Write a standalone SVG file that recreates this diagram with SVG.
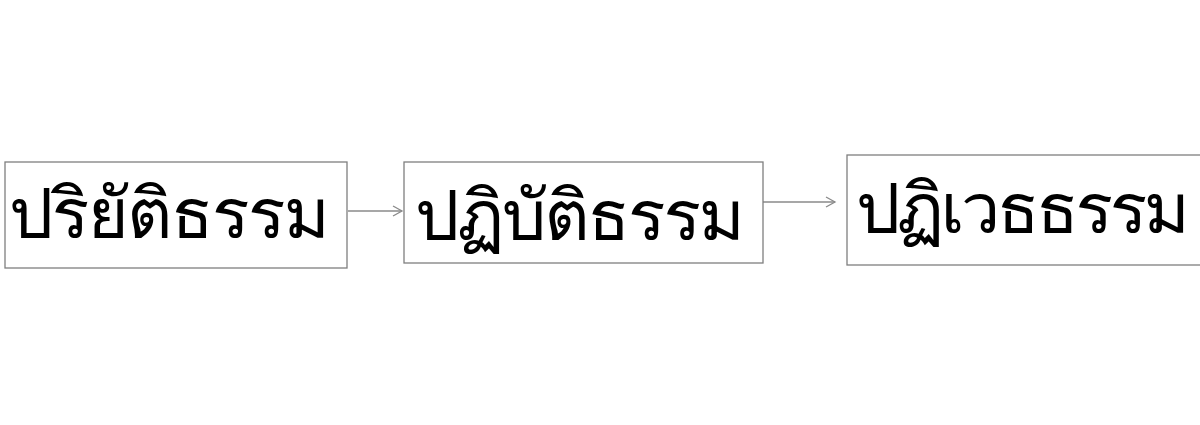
<svg xmlns="http://www.w3.org/2000/svg" width="1200" height="425" viewBox="0 0 1200 425">
<style>
.box{fill:#fff;stroke:#7f7f7f;stroke-width:1.3}
.lbl{font-family:"Loma","Garuda","Noto Sans Thai Looped","Noto Sans","DejaVu Sans",sans-serif;font-size:70px;font-weight:200;fill:#000}
.conn{stroke:#8a8a8a;stroke-width:1.3;fill:none}
</style>
<defs>
<marker id="arr" markerWidth="12" markerHeight="12" refX="10" refY="6" orient="auto" markerUnits="userSpaceOnUse">
<path d="M1,1 L10,6 L1,11" fill="none" stroke="#8a8a8a" stroke-width="1.3"/>
</marker>
</defs>
<rect width="1200" height="425" fill="#fff"/>
<g id="connectors">
<line class="conn" x1="348" y1="211" x2="402" y2="211" marker-end="url(#arr)"/>
<line class="conn" x1="763" y1="202" x2="835" y2="202" marker-end="url(#arr)"/>
</g>
<g id="node1">
<rect class="box" x="5" y="162" width="342" height="106"/>
<text class="lbl" x="9" y="238" textLength="321" lengthAdjust="spacing">ปริยัติธรรม</text>
</g>
<g id="node2">
<rect class="box" x="404" y="162" width="359" height="101"/>
<text class="lbl" x="415" y="240" textLength="330" lengthAdjust="spacing">ปฏิบัติธรรม</text>
</g>
<g id="node3">
<rect class="box" x="847" y="155" width="400" height="110"/>
<text class="lbl" x="856" y="233" textLength="334" lengthAdjust="spacing">ปฏิเวธธรรม</text>
</g>
</svg>
